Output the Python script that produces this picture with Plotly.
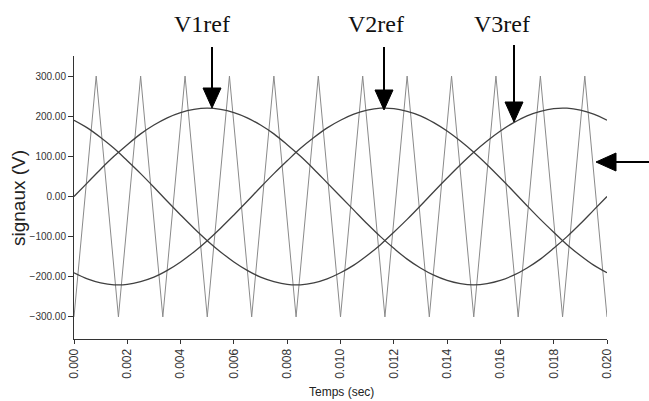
import plotly.graph_objects as go

# ---- data ----
t_ref = [0.0, 0.0005, 0.001, 0.0015, 0.002, 0.0025, 0.003, 0.0035, 0.004, 0.0045,
         0.005, 0.0055, 0.006, 0.0065, 0.007, 0.0075, 0.008, 0.0085, 0.009, 0.0095,
         0.01, 0.0105, 0.011, 0.0115, 0.012, 0.0125, 0.013, 0.0135, 0.014, 0.0145,
         0.015, 0.0155, 0.016, 0.0165, 0.017, 0.0175, 0.018, 0.0185, 0.019, 0.0195, 0.02]

v1_ref = [0, 34, 68, 100, 129, 156, 178, 196, 209, 217,
          220, 217, 209, 196, 178, 156, 129, 100, 68, 34,
          0, -34, -68, -100, -129, -156, -178, -196, -209, -217,
          -220, -217, -209, -196, -178, -156, -129, -100, -68, -34, 0]

v2_ref = [-190, -205, -215, -220, -219, -212, -201, -184, -163, -138,
          -110, -79, -46, -12, 23, 57, 89, 120, 147, 171,
          190, 205, 215, 220, 219, 212, 201, 184, 163, 138,
          110, 79, 46, 12, -23, -57, -89, -120, -147, -171, -190]

v3_ref = [190, 171, 147, 120, 89, 57, 23, -12, -46, -79,
          -110, -138, -163, -184, -201, -212, -219, -220, -215, -205,
          -190, -171, -147, -120, -89, -57, -23, 12, 46, 79,
          110, 138, 163, 184, 201, 212, 219, 220, 215, 205, 190]

t_carrier = [0.0, 0.000833, 0.001667, 0.0025, 0.003333, 0.004167, 0.005, 0.005833,
             0.006667, 0.0075, 0.008333, 0.009167, 0.01, 0.010833, 0.011667, 0.0125,
             0.013333, 0.014167, 0.015, 0.015833, 0.016667, 0.0175, 0.018333, 0.019167, 0.02]
v_carrier = [-300, 300, -300, 300, -300, 300, -300, 300, -300, 300, -300, 300, -300,
             300, -300, 300, -300, 300, -300, 300, -300, 300, -300, 300, -300]

x_ticks = [0.0, 0.002, 0.004, 0.006, 0.008, 0.010, 0.012, 0.014, 0.016, 0.018, 0.020]
y_ticks = [-300, -200, -100, 0, 100, 200, 300]

labels = ["V1ref", "V2ref", "V3ref"]

# ---- figure ----
W, H = 649, 401
L, R, T, B = 74, 42, 56, 62
PW, PH = W - L - R, H - T - B

def px(x, y):
    return (x - L) / PW, (H - B - y) / PH

fig = go.Figure()
fig.add_trace(go.Scatter(x=t_carrier, y=v_carrier, mode="lines",
                         line=dict(color="#8a8a8a", width=1), hoverinfo="skip"))
for v in (v1_ref, v2_ref, v3_ref):
    fig.add_trace(go.Scatter(x=t_ref, y=v, mode="lines",
                             line=dict(color="#404040", width=1.3, shape="spline", smoothing=1),
                             hoverinfo="skip"))

shapes = []
annotations = []

def down_arrow(x, ytop, ytip):
    x0, y0 = px(x, ytop)
    x1, y1 = px(x, ytip - 19)
    shapes.append(dict(type="line", xref="paper", yref="paper", x0=x0, y0=y0, x1=x1, y1=y1,
                       line=dict(color="black", width=2)))
    a = px(x - 9, ytip - 20)
    b = px(x + 9, ytip - 20)
    c = px(x, ytip)
    shapes.append(dict(type="path", xref="paper", yref="paper",
                       path=f"M{a[0]},{a[1]} L{b[0]},{b[1]} L{c[0]},{c[1]} Z",
                       fillcolor="black", line=dict(color="black", width=1)))

def left_arrow(xtip, y, xend):
    x0, y0 = px(xtip + 19, y)
    x1, y1 = px(xend, y)
    shapes.append(dict(type="line", xref="paper", yref="paper", x0=x0, y0=y0, x1=x1, y1=y1,
                       line=dict(color="black", width=2)))
    a = px(xtip + 20, y - 9)
    b = px(xtip + 20, y + 9)
    c = px(xtip, y)
    shapes.append(dict(type="path", xref="paper", yref="paper",
                       path=f"M{a[0]},{a[1]} L{b[0]},{b[1]} L{c[0]},{c[1]} Z",
                       fillcolor="black", line=dict(color="black", width=1)))

down_arrow(212, 47, 108)
down_arrow(384, 47, 110)
down_arrow(514, 45, 122)
left_arrow(596, 162, 652)

for lab, cx in zip(labels, [202, 376, 502]):
    ax, ay = px(cx, 24)
    annotations.append(dict(text=lab, xref="paper", yref="paper", x=ax, y=ay,
                            xanchor="center", yanchor="middle", showarrow=False,
                            font=dict(family="Liberation Serif, Times New Roman, serif",
                                      size=24, color="#111")))

ax, ay = px(18, 198)
annotations.append(dict(text="signaux (V)", xref="paper", yref="paper", x=ax, y=ay,
                        xanchor="center", yanchor="middle", showarrow=False, textangle=-90,
                        font=dict(family="Liberation Sans, Arial, sans-serif", size=19, color="#222")))
ax, ay = px(341, 392)
annotations.append(dict(text="Temps (sec)", xref="paper", yref="paper", x=ax, y=ay,
                        xanchor="center", yanchor="middle", showarrow=False,
                        font=dict(family="Liberation Sans, Arial, sans-serif", size=12, color="#222")))

fig.update_layout(
    width=W, height=H,
    margin=dict(l=L, r=R, t=T, b=B, pad=0, autoexpand=False),
    paper_bgcolor="white", plot_bgcolor="white",
    showlegend=False,
    shapes=shapes, annotations=annotations,
    xaxis=dict(range=[0, 0.02], tickvals=x_ticks, tickformat=".3f", tickangle=-90,
               automargin=False,
               showgrid=False, zeroline=False, showline=True, linecolor="#333", linewidth=1,
               ticks="outside", ticklen=4, tickcolor="#333",
               tickfont=dict(family="Liberation Sans, Arial, sans-serif", size=12, color="#333")),
    yaxis=dict(range=[-355, 350], tickvals=y_ticks, tickformat=".2f",
               automargin=False,
               showgrid=False, zeroline=False, showline=True, linecolor="#333", linewidth=1,
               ticks="outside", ticklen=5, tickcolor="#333",
               tickfont=dict(family="Liberation Sans, Arial, sans-serif", size=10, color="#333")),
)

fig.write_html("out.html", config={"displayModeBar": False},
               post_script="document.body.style.margin='0';document.body.style.overflow='hidden';")
